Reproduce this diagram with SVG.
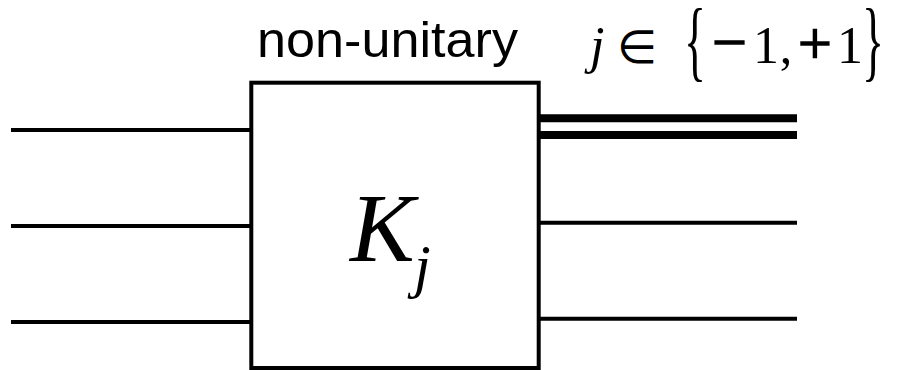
<svg xmlns="http://www.w3.org/2000/svg" width="897" height="370" viewBox="0 0 897 370">
<style>
.w{stroke:#000;stroke-width:4;fill:none}
.c{stroke:#000;stroke-width:8;fill:none}
.lbl{font-family:"Liberation Sans",Arial,sans-serif;font-size:50px;fill:#000}
.m{font-family:"Liberation Serif","Times New Roman",serif;fill:#000}
.i{font-style:italic}
.mid{text-anchor:middle}
.bold{stroke:#000;stroke-width:1.4}
</style>
<rect width="897" height="370" fill="#fff"/>
<g id="connectors">
<line class="w" x1="11" y1="130" x2="251" y2="130"/>
<line class="w" x1="11" y1="226" x2="251" y2="226"/>
<line class="w" x1="11" y1="322" x2="251" y2="322"/>
<line class="w" x1="539" y1="222.7" x2="797" y2="222.7"/>
<line class="w" x1="539" y1="318.7" x2="797" y2="318.7"/>
<line class="c" x1="539" y1="118.3" x2="797" y2="118.3"/>
<line class="c" x1="539" y1="135" x2="797" y2="135"/>
</g>
<g id="gate">
<rect class="w" x="251.3" y="82.7" width="287.4" height="285.3" fill="#fff"/>
<text class="m i" x="350" y="261" font-size="97">K</text>
<text class="m i" x="414" y="286" font-size="60">j</text>
</g>
<g id="label-nonunitary">
<text class="lbl" x="257" y="57" textLength="261" lengthAdjust="spacingAndGlyphs">non-unitary</text>
</g>
<g id="label-j">
<text class="m i" x="590" y="63" font-size="52">j</text>
<text class="m mid" x="637" y="63" font-size="46">∈</text>
<text class="m" x="684" y="70" font-size="88" textLength="22" lengthAdjust="spacingAndGlyphs">{</text>
<text class="m mid bold" x="729.5" y="63" font-size="62">−</text>
<text class="m mid" x="766" y="63" font-size="52">1</text>
<text class="m mid" x="786" y="63" font-size="50">,</text>
<text class="m mid bold" x="815" y="63" font-size="60">+</text>
<text class="m mid" x="850" y="63" font-size="52">1</text>
<text class="m" x="862" y="70" font-size="88" textLength="22" lengthAdjust="spacingAndGlyphs">}</text>
</g>
</svg>
